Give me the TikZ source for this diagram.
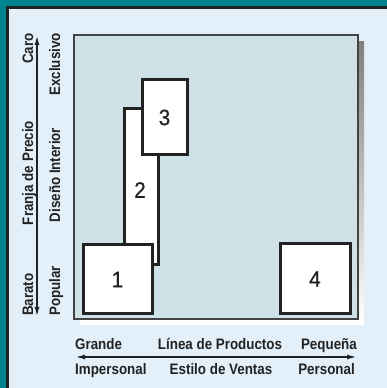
\documentclass[tikz,border=0pt]{standalone}
\usepackage{fontspec}
\setmainfont{Liberation Sans}
\newfontfamily\labfont{Liberation Sans Bold}[FakeStretch=0.88]
\newfontfamily\numfont{Liberation Sans}[FakeStretch=0.92,FakeBold=0.6]
\usetikzlibrary{arrows.meta}
\definecolor{teal0}{HTML}{00858E}
\definecolor{panel}{HTML}{E3F0FA}
\definecolor{plotbg}{HTML}{CEE1E6}
\definecolor{shade}{HTML}{BDBDBD}
\definecolor{ink}{HTML}{222222}
\tikzset{
  box/.style={draw=ink, fill=white, line width=3pt},
  num/.style={font=\numfont\fontsize{22.5}{22}\selectfont, text=ink, inner sep=0pt},
  lab/.style={font=\labfont\fontsize{15.2}{15}\selectfont, text=ink, inner sep=0pt},
  axis/.style={draw=ink, line width=1.1pt, {Latex[length=9pt,width=5pt]}-{Latex[length=9pt,width=5pt]}},
}
\begin{document}
\begin{tikzpicture}[x=1pt,y=1pt]
\useasboundingbox (0,0) rectangle (387,388);
\clip (0,0) rectangle (387,388);
\fill[teal0] (0,0) rectangle (387,388);
\draw[draw=ink, fill=panel, line width=3pt] (7.5,-20) rectangle (420,380.5);
% plot area
\fill[shade] (80,63) rectangle (364,346);
\draw[draw=ink!85, fill=plotbg, line width=1.4pt] (74,69) rectangle (358,353);
% boxes
\draw[box] (124,123) rectangle (158,279);
\draw[box] (142,233) rectangle (187,308);
\draw[box] (83,74) rectangle (152,143);
\draw[box] (280,74) rectangle (350,144);
\node[num] (n1) at (117.5,108.5) {1};
\node[num] (n2) at (140,198) {2};
\node[num] (n3) at (164.5,270.5) {3};
\node[num] (n4) at (315,109) {4};
% left axis
\coordinate (ltop) at (37,352);
\coordinate (lbot) at (37,72);
\draw[axis] (lbot) -- (ltop);
\node[lab, rotate=90, anchor=base east] (caro) at (33,355) {Caro};
\node[lab, rotate=90, anchor=base] (franja) at (33,215) {Franja de Precio};
\node[lab, rotate=90, anchor=base west] (barato) at (33,72) {Barato};
\node[lab, rotate=90, anchor=base east] (exclusivo) at (60,355) {Exclusivo};
\node[lab, rotate=90, anchor=base] (diseno) at (60,213) {Diseño Interior};
\node[lab, rotate=90, anchor=base west] (popular) at (60,72) {Popular};
% bottom axis
\coordinate (bl) at (76,31);
\coordinate (br) at (356,31);
\draw[axis] (bl) -- (br);
\node[lab, anchor=base west] (grande) at (75,38) {Grande};
\node[lab, anchor=base] (linea) at (220,38) {Línea de Productos};
\node[lab, anchor=base east] (pequena) at (357,38) {Pequeña};
\node[lab, anchor=base west] (imper) at (75,13) {Impersonal};
\node[lab, anchor=base] (estilo) at (221,13) {Estilo de Ventas};
\node[lab, anchor=base east] (personal) at (355,13) {Personal};
\end{tikzpicture}
\end{document}
